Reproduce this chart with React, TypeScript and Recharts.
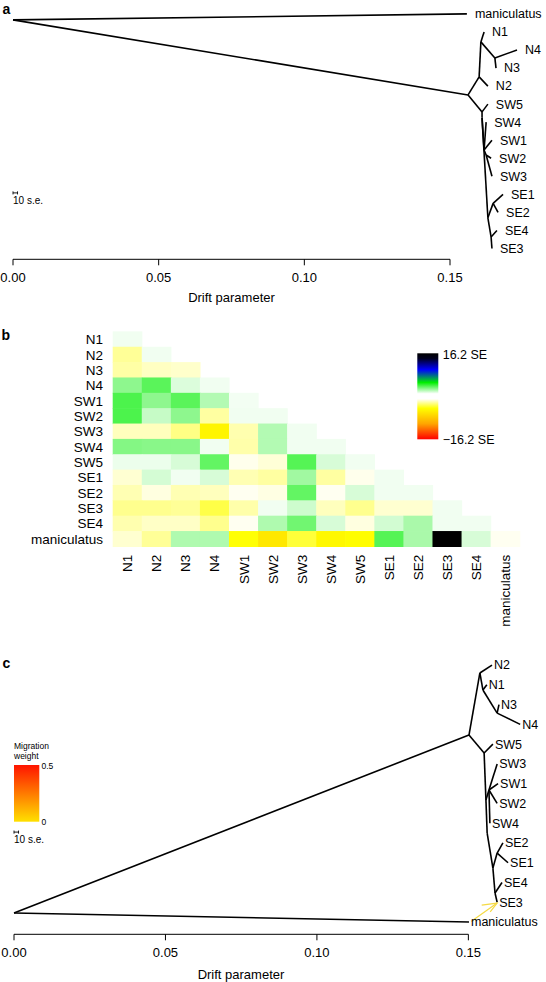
import React from 'react';
import { ScatterChart, Scatter, XAxis, YAxis, ReferenceLine } from 'recharts';

const FONT = "'Liberation Sans', Arial, Helvetica, sans-serif";

// ---------------- shared ----------------
const driftTicks = [0, 0.05, 0.1, 0.15];

// ---------------- panel a: tree (drift, leaf slot) ----------------
const treeANodes: Record<string, [number, number]> = {
  root: [0, 0.33],
  maniculatus: [0.1558, 0],
  a1: [0.1562, 4.49],
  a2: [0.16, 3.49],
  a3: [0.1606, 1.55],
  N1: [0.1617, 1],
  a4: [0.1654, 2.44],
  N4: [0.173, 2],
  N3: [0.1658, 3],
  N2: [0.163, 4],
  a5: [0.161, 5.43],
  SW5: [0.163, 5],
  a6: [0.161, 5.76],
  a7: [0.1617, 7.54],
  SW4: [0.1624, 6],
  SW1: [0.1644, 7],
  a8: [0.1624, 7.82],
  SW2: [0.1641, 8],
  SW3: [0.1644, 9],
  a9: [0.163, 11.3],
  a10: [0.1648, 10.5],
  SE1: [0.1682, 10],
  SE2: [0.1665, 11],
  a11: [0.1641, 12.36],
  SE4: [0.1661, 12],
  SE3: [0.1644, 13],
};
const treeAEdges: [string, string][] = [
  ['root', 'maniculatus'], ['root', 'a1'], ['a1', 'a2'], ['a2', 'a3'], ['a3', 'N1'],
  ['a3', 'a4'], ['a4', 'N4'], ['a4', 'N3'], ['a2', 'N2'], ['a1', 'a5'], ['a5', 'SW5'],
  ['a5', 'a6'], ['a6', 'a7'], ['a7', 'SW4'], ['a7', 'SW1'], ['a7', 'a8'], ['a8', 'SW2'],
  ['a8', 'SW3'], ['a6', 'a9'], ['a9', 'a10'], ['a10', 'SE1'], ['a10', 'SE2'], ['a9', 'a11'],
  ['a11', 'SE4'], ['a11', 'SE3'],
];
const treeATips = ['maniculatus', 'N1', 'N4', 'N3', 'N2', 'SW5', 'SW4', 'SW1', 'SW2', 'SW3', 'SE1', 'SE2', 'SE4', 'SE3'];
const seBarA = { x0: 0, x1: 0.00155, y: 9.92, cap: 0.085 };

// ---------------- panel c: tree with one migration edge ----------------
const treeCNodes: Record<string, [number, number]> = {
  root: [0, 12.54],
  maniculatus: [0.1502, 13],
  c1: [0.1502, 3.54],
  c2: [0.1538, 0.4],
  N2: [0.1578, 0],
  c3: [0.1548, 1.26],
  N1: [0.1561, 1],
  c4: [0.1595, 2.43],
  N3: [0.1601, 2],
  N4: [0.1671, 3],
  c5: [0.1552, 4.45],
  SW5: [0.1581, 4],
  c6: [0.1558, 6.83],
  c7: [0.1568, 6.32],
  SW3: [0.1595, 5],
  SW1: [0.1598, 6],
  SW2: [0.1595, 7],
  SW4: [0.1571, 8],
  c8: [0.1562, 8.5],
  c9: [0.1581, 10.27],
  c10: [0.1595, 9.51],
  SE2: [0.1614, 9],
  SE1: [0.1631, 10],
  c11: [0.1588, 11.53],
  SE4: [0.1611, 11],
  SE3: [0.1595, 12],
};
const treeCEdges: [string, string][] = [
  ['root', 'maniculatus'], ['root', 'c1'], ['c1', 'c2'], ['c2', 'N2'], ['c2', 'c3'], ['c3', 'N1'],
  ['c3', 'c4'], ['c4', 'N3'], ['c4', 'N4'], ['c1', 'c5'], ['c5', 'SW5'], ['c5', 'c6'], ['c6', 'c7'],
  ['c7', 'SW3'], ['c7', 'SW1'], ['c7', 'SW2'], ['c7', 'SW4'], ['c6', 'c8'], ['c8', 'c9'],
  ['c9', 'c10'], ['c10', 'SE2'], ['c10', 'SE1'], ['c9', 'c11'], ['c11', 'SE4'], ['c11', 'SE3'],
];
const treeCTips = ['N2', 'N1', 'N3', 'N4', 'SW5', 'SW3', 'SW1', 'SW2', 'SW4', 'SE2', 'SE1', 'SE4', 'SE3', 'maniculatus'];
const migrationShaft = [{ x: 0.1509, y: 12.97 }, { x: 0.1595, y: 12.04 }];
const migrationHead = [{ x: 0.1544, y: 12.14 }, { x: 0.1595, y: 12.04 }, { x: 0.1572, y: 12.48 }];
const seBarC = { x0: 0, x1: 0.0015, y: 8.45, cap: 0.078 };

// ---------------- panel b: residuals (SE units), lower triangle ----------------
const populations = ['N1', 'N2', 'N3', 'N4', 'SW1', 'SW2', 'SW3', 'SW4', 'SW5', 'SE1', 'SE2', 'SE3', 'SE4', 'maniculatus'];
const residualRows: number[][] = [
  [0.3],
  [-2.2, 0.3],
  [-1.9, -1.3, -1.1],
  [2.4, 3.5, 0.75, 0.3],
  [3.8, 2.4, 3.5, 1.6, 0.25],
  [3.8, 1.2, 2.4, -2.0, 0.3, 0.3],
  [-1.4, -1.4, -2.6, -6.0, -1.7, 1.6, 0.3],
  [2.6, 2.5, 2.5, 0.3, -1.8, 1.6, 0.3, 0.3],
  [0.4, 0.4, 0.85, 3.3, -0.4, -0.85, 3.6, 0.85, 0.3],
  [-0.95, 0.9, 0.3, 0.85, -1.6, -2.0, 2.0, -2.0, -0.4, 0.3],
  [-1.6, -0.65, -1.6, -1.4, -0.3, -0.6, 3.3, -0.3, 0.85, 0.3, 0.3],
  [-2.4, -2.4, -2.2, -3.9, -1.8, 0.3, 1.05, -1.4, -2.4, -1.0, -1.0, 0.3],
  [-1.7, -1.2, -1.2, -2.4, -0.3, 1.7, 3.0, 0.85, -0.65, 0.95, 1.8, 0.3, 0.3],
  [-1.0, -2.2, 1.7, 1.7, -5.3, -6.8, -4.2, -5.8, -5.5, 3.6, 1.8, 16.2, 0.85, -0.3],
];
const residMax = 16.2;

const paletteStops: [number, number[]][] = [
  [0, [255, 0, 0]],
  [1 / 6, [255, 165, 0]],
  [2 / 6, [255, 255, 0]],
  [3 / 6, [255, 255, 255]],
  [4 / 6, [0, 238, 0]],
  [5 / 6, [0, 0, 255]],
  [1, [0, 0, 0]],
];
function residColor(v: number): string {
  const t = Math.max(0, Math.min(1, (v + residMax) / (2 * residMax)));
  for (let i = 0; i < paletteStops.length - 1; i++) {
    const [t0, c0] = paletteStops[i];
    const [t1, c1] = paletteStops[i + 1];
    if (t <= t1) {
      const f = (t - t0) / (t1 - t0);
      const c = c0.map((a, k) => Math.round(a + (c1[k] - a) * f));
      return `rgb(${c[0]},${c[1]},${c[2]})`;
    }
  }
  return 'rgb(0,0,0)';
}

// ---------------- components ----------------
const noShape = () => <g />;

type TreeProps = {
  nodes: Record<string, [number, number]>;
  edges: [string, string][];
  tips: string[];
  xMax: number;
  yMin: number;
  yMax: number;
  width: number;
  height: number;
  margin: { top: number; right: number; bottom: number; left: number };
  labelGap: number;
  tickMargin: number;
  seBar: { x0: number; x1: number; y: number; cap: number };
  migration?: boolean;
};

function TreeChart(p: TreeProps) {
  const pt = (n: string) => ({ x: p.nodes[n][0], y: p.nodes[n][1] });
  const tipData = p.tips.map((n) => ({ ...pt(n), name: n }));
  const sb = p.seBar;
  const bars = [
    [{ x: sb.x0, y: sb.y }, { x: sb.x1, y: sb.y }],
    [{ x: sb.x0, y: sb.y - sb.cap }, { x: sb.x0, y: sb.y + sb.cap }],
    [{ x: sb.x1, y: sb.y - sb.cap }, { x: sb.x1, y: sb.y + sb.cap }],
  ];
  return (
    <ScatterChart width={p.width} height={p.height} margin={p.margin}>
      <XAxis
        type="number"
        dataKey="x"
        domain={[0, p.xMax]}
        ticks={driftTicks}
        interval={0}
        tickFormatter={(v: number) => v.toFixed(2)}
        axisLine={false}
        tickLine={{ stroke: '#000', strokeWidth: 1 }}
        tickSize={6}
        tickMargin={p.tickMargin}
        tick={{ fill: '#000', fontSize: 13 }}
        height={45}
      />
      <YAxis type="number" dataKey="y" domain={[p.yMin, p.yMax]} reversed hide />
      <ReferenceLine
        segment={[{ x: 0, y: p.yMax }, { x: 0.15, y: p.yMax }]}
        stroke="#000"
        strokeWidth={1}
        ifOverflow="visible"
      />
      {p.edges.map(([a, b], i) => (
        <Scatter
          key={'e' + i}
          data={[pt(a), pt(b)]}
          line={{ stroke: '#000', strokeWidth: 1.6 }}
          lineType="joint"
          shape={noShape}
          isAnimationActive={false}
          legendType="none"
        />
      ))}
      {bars.map((d, i) => (
        <Scatter
          key={'s' + i}
          data={d}
          line={{ stroke: '#000', strokeWidth: 0.9 }}
          lineType="joint"
          shape={noShape}
          isAnimationActive={false}
          legendType="none"
        />
      ))}
      {p.migration && (
        <Scatter
          data={migrationShaft}
          line={{ stroke: '#F5DA45', strokeWidth: 1.2 }}
          lineType="joint"
          shape={noShape}
          isAnimationActive={false}
          legendType="none"
        />
      )}
      {p.migration && (
        <Scatter
          data={migrationHead}
          line={{ stroke: '#F5DA45', strokeWidth: 1.2 }}
          lineType="joint"
          shape={noShape}
          isAnimationActive={false}
          legendType="none"
        />
      )}
      <Scatter
        data={tipData}
        isAnimationActive={false}
        legendType="none"
        shape={(s: any) => (
          <text x={s.cx + p.labelGap} y={s.cy} dy="0.35em" fontSize={12.5} fill="#000" fontFamily={FONT}>
            {s.payload.name}
          </text>
        )}
      />
    </ScatterChart>
  );
}

const idx = populations.map((_, i) => i);
const HM_W = 407;
const HM_H = 215;

const ColTick = (props: any) => {
  const { x, y, payload } = props;
  return (
    <text
      x={x}
      y={y}
      transform={`rotate(-90 ${x} ${y})`}
      textAnchor="end"
      dy="0.35em"
      fontSize={13.5}
      fill="#000"
      fontFamily={FONT}
    >
      {populations[payload.value]}
    </text>
  );
};

function Heatmap() {
  const cells = residualRows.flatMap((row, r) => row.map((v, c) => ({ c, r, v })));
  const cw = HM_W / populations.length;
  const ch = HM_H / populations.length;
  return (
    <ScatterChart width={546} height={330} margin={{ top: 21.7, right: 26, bottom: 0, left: 0 }}>
      <XAxis
        type="number"
        dataKey="c"
        domain={[-0.5, 13.5]}
        ticks={idx}
        interval={0}
        axisLine={false}
        tickLine={false}
        tickSize={0}
        tickMargin={8}
        height={93.3}
        tick={ColTick}
      />
      <YAxis
        type="number"
        dataKey="r"
        domain={[-0.5, 13.5]}
        reversed
        ticks={idx}
        interval={0}
        axisLine={false}
        tickLine={false}
        tickSize={0}
        tickMargin={10}
        width={113}
        tick={{ fill: '#000', fontSize: 13.5 }}
        tickFormatter={(v: number) => populations[v]}
      />
      <Scatter
        data={cells}
        isAnimationActive={false}
        legendType="none"
        shape={(s: any) => (
          <rect
            x={s.cx - cw / 2 - 0.3}
            y={s.cy - ch / 2 - 0.3}
            width={cw + 0.6}
            height={ch + 0.6}
            fill={residColor(s.payload.v)}
          />
        )}
      />
    </ScatterChart>
  );
}

export default function App() {
  return (
    <div style={{ position: 'absolute', left: 0, top: 0, width: 546, height: 982, background: '#fff', fontFamily: FONT }}>
      <div style={{ position: 'absolute', left: 0, top: 0 }}>
        <TreeChart
          nodes={treeANodes}
          edges={treeAEdges}
          tips={treeATips}
          xMax={0.18}
          yMin={-0.5}
          yMax={13.6}
          width={546}
          height={310}
          margin={{ top: 4.9, right: 8.6, bottom: 5.7, left: 13 }}
          labelGap={8}
          tickMargin={7}
          seBar={seBarA}
        />
      </div>
      <div style={{ position: 'absolute', left: 0, top: 310 }}>
        <Heatmap />
      </div>
      <div style={{ position: 'absolute', left: 0, top: 640 }}>
        <TreeChart
          nodes={treeCNodes}
          edges={treeCEdges}
          tips={treeCTips}
          xMax={0.175}
          yMin={-1}
          yMax={13.62}
          width={546}
          height={342}
          margin={{ top: 5.3, right: 1.9, bottom: 2.7, left: 14 }}
          labelGap={2}
          tickMargin={7.7}
          seBar={seBarC}
          migration
        />
      </div>
      <svg
        width={546}
        height={982}
        style={{ position: 'absolute', left: 0, top: 0, pointerEvents: 'none' }}
        fontFamily={FONT}
      >
        <defs>
          <linearGradient id="residGrad" x1="0" y1="0" x2="0" y2="1">
            <stop offset="0" stopColor="#000000" />
            <stop offset="0.06" stopColor="#000020" />
            <stop offset="0.19" stopColor="#0000ff" />
            <stop offset="0.34" stopColor="#00ee00" />
            <stop offset="0.47" stopColor="#ffffff" />
            <stop offset="0.53" stopColor="#ffffff" />
            <stop offset="0.64" stopColor="#ffff00" />
            <stop offset="0.82" stopColor="#ffa500" />
            <stop offset="1" stopColor="#ff0000" />
          </linearGradient>
          <linearGradient id="migGrad" x1="0" y1="0" x2="0" y2="1">
            <stop offset="0" stopColor="#ff1400" />
            <stop offset="0.5" stopColor="#ff7a00" />
            <stop offset="1" stopColor="#ffe000" />
          </linearGradient>
        </defs>
        {/* panel letters */}
        <text x={2.5} y={14} fontSize={14} fontWeight="bold" fill="#000">a</text>
        <text x={1.5} y={340} fontSize={14} fontWeight="bold" fill="#000">b</text>
        <text x={2.5} y={668} fontSize={14} fontWeight="bold" fill="#000">c</text>
        {/* axis titles */}
        <text x={231.5} y={301.9} fontSize={13} textAnchor="middle" fill="#000">Drift parameter</text>
        <text x={241} y={978.9} fontSize={13} textAnchor="middle" fill="#000">Drift parameter</text>
        {/* scale-bar captions */}
        <text x={13} y={204} fontSize={10} fill="#000">10 s.e.</text>
        <text x={14} y={843} fontSize={10} fill="#000">10 s.e.</text>
        {/* residual colour key */}
        <rect x={417.3} y={353.3} width={21} height={86} fill="url(#residGrad)" />
        <text x={442.7} y={358.8} fontSize={12.5} fill="#000">16.2 SE</text>
        <text x={442.7} y={443.5} fontSize={12.5} fill="#000">−16.2 SE</text>
        {/* migration weight key */}
        <text x={14} y={748.5} fontSize={8.5} fill="#000">Migration</text>
        <text x={14} y={758.5} fontSize={8.5} fill="#000">weight</text>
        <rect x={14} y={765} width={25.3} height={56.7} fill="url(#migGrad)" />
        <text x={41.5} y={769.3} fontSize={8.5} fill="#000">0.5</text>
        <text x={41.5} y={825} fontSize={8.5} fill="#000">0</text>
      </svg>
    </div>
  );
}
